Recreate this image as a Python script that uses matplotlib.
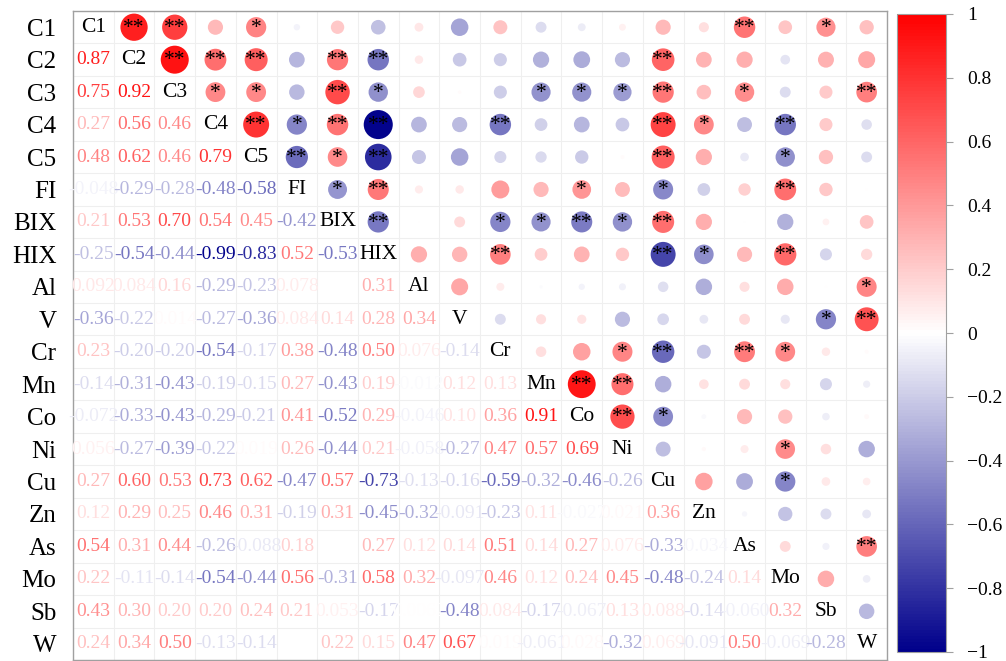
import math
import matplotlib
matplotlib.use("Agg")
import matplotlib.pyplot as plt
from matplotlib.colors import LinearSegmentedColormap, Normalize
from matplotlib.cm import ScalarMappable

plt.rcParams["font.family"] = ["Liberation Serif", "DejaVu Serif"]

names = ["C1", "C2", "C3", "C4", "C5", "FI", "BIX", "HIX", "Al", "V",
         "Cr", "Mn", "Co", "Ni", "Cu", "Zn", "As", "Mo", "Sb", "W"]

# Lower-triangle correlation coefficients, one list per variable (row),
# holding r with each of the preceding variables.
r_C2 = [0.87]
r_C3 = [0.75, 0.92]
r_C4 = [0.27, 0.56, 0.46]
r_C5 = [0.48, 0.62, 0.46, 0.79]
r_FI = [-0.048, -0.29, -0.28, -0.48, -0.58]
r_BIX = [0.21, 0.53, 0.70, 0.54, 0.45, -0.42]
r_HIX = [-0.25, -0.54, -0.44, -0.99, -0.83, 0.52, -0.53]
r_Al = [0.092, 0.084, 0.16, -0.29, -0.23, 0.078, 0.0031, 0.31]
r_V = [-0.36, -0.22, 0.014, -0.27, -0.36, 0.084, 0.14, 0.28, 0.34]
r_Cr = [0.23, -0.20, -0.20, -0.54, -0.17, 0.38, -0.48, 0.50, 0.076, -0.14]
r_Mn = [-0.14, -0.31, -0.43, -0.19, -0.15, 0.27, -0.43, 0.19, -0.012, 0.12, 0.13]
r_Co = [-0.072, -0.33, -0.43, -0.29, -0.21, 0.41, -0.52, 0.29, -0.046, 0.10,
        0.36, 0.91]
r_Ni = [0.056, -0.27, -0.39, -0.22, 0.019, 0.26, -0.44, 0.21, -0.058, -0.27,
        0.47, 0.57, 0.69]
r_Cu = [0.27, 0.60, 0.53, 0.73, 0.62, -0.47, 0.57, -0.73, -0.13, -0.16,
        -0.59, -0.32, -0.46, -0.26]
r_Zn = [0.12, 0.29, 0.25, 0.46, 0.31, -0.19, 0.31, -0.45, -0.32, -0.091,
        -0.23, 0.11, -0.027, 0.021, 0.36]
r_As = [0.54, 0.31, 0.44, -0.26, -0.088, 0.18, -0.0024, 0.27, 0.12, 0.14,
        0.51, 0.14, 0.27, 0.076, -0.33, -0.034]
r_Mo = [0.22, -0.11, -0.14, -0.54, -0.44, 0.56, -0.31, 0.58, 0.32, -0.097,
        0.46, 0.12, 0.24, 0.45, -0.48, -0.24, 0.14]
r_Sb = [0.43, 0.30, 0.20, 0.20, 0.24, 0.21, 0.053, -0.17, 0.0062, -0.48,
        0.084, -0.17, -0.067, 0.13, 0.088, -0.14, -0.060, 0.32]
r_W = [0.24, 0.34, 0.50, -0.13, -0.14, 0.0043, 0.22, 0.15, 0.47, 0.67,
       0.019, -0.061, 0.028, -0.32, 0.069, -0.091, 0.50, -0.069, -0.28]

lower_rows = [[], r_C2, r_C3, r_C4, r_C5, r_FI, r_BIX, r_HIX, r_Al, r_V,
              r_Cr, r_Mn, r_Co, r_Ni, r_Cu, r_Zn, r_As, r_Mo, r_Sb, r_W]

# Significance markers: p < 0.01 (**) and p < 0.05 (*)
sig_p01 = [("C1", "C2"), ("C1", "C3"), ("C1", "As"), ("C2", "C3"), ("C2", "C4"),
           ("C2", "C5"), ("C2", "BIX"), ("C2", "HIX"), ("C2", "Cu"), ("C3", "BIX"),
           ("C3", "Cu"), ("C3", "W"), ("C4", "C5"), ("C4", "BIX"), ("C4", "HIX"),
           ("C4", "Cr"), ("C4", "Cu"), ("C4", "Mo"), ("C5", "FI"), ("C5", "HIX"),
           ("C5", "Cu"), ("FI", "HIX"), ("FI", "Mo"), ("BIX", "HIX"), ("BIX", "Co"),
           ("BIX", "Cu"), ("HIX", "Cr"), ("HIX", "Cu"), ("HIX", "Mo"), ("V", "W"),
           ("Cr", "Cu"), ("Cr", "As"), ("Mn", "Co"), ("Mn", "Ni"), ("Co", "Ni"),
           ("As", "W")]
sig_p05 = [("C1", "C5"), ("C1", "Sb"), ("C3", "C4"), ("C3", "C5"), ("C3", "HIX"),
           ("C3", "Mn"), ("C3", "Co"), ("C3", "Ni"), ("C3", "As"), ("C4", "FI"),
           ("C4", "Zn"), ("C5", "BIX"), ("C5", "Mo"), ("FI", "BIX"), ("FI", "Co"),
           ("FI", "Cu"), ("BIX", "Cr"), ("BIX", "Mn"), ("BIX", "Ni"), ("HIX", "Zn"),
           ("Al", "W"), ("V", "Sb"), ("Cr", "Ni"), ("Cr", "Mo"), ("Co", "Cu"),
           ("Ni", "Mo"), ("Cu", "Mo")]

n = len(names)
idx = {nm: k for k, nm in enumerate(names)}

# full symmetric matrix
R = [[1.0] * n for _ in range(n)]
for i, row in enumerate(lower_rows):
    for j, v in enumerate(row):
        R[i][j] = v
        R[j][i] = v

stars = {}
for a, b in sig_p01:
    stars[(min(idx[a], idx[b]), max(idx[a], idx[b]))] = "**"
for a, b in sig_p05:
    stars[(min(idx[a], idx[b]), max(idx[a], idx[b]))] = "*"

cmap = LinearSegmentedColormap.from_list("bwr_dark", ["#00008B", "#FFFFFF", "#FF0000"], N=200)
norm = Normalize(-1, 1)


def fmt(v):
    a = abs(v)
    if a >= 0.1:
        d = 2
    else:
        d = -int(math.floor(math.log10(a))) + 1
    return f"{v:.{d}f}"


W_PX, H_PX = 1006, 661
fig = plt.figure(figsize=(W_PX / 100, H_PX / 100), dpi=100)
ax_l, ax_r, ax_t, ax_b = 73, 887, 11, 660
ax = fig.add_axes([ax_l / W_PX, 1 - ax_b / H_PX, (ax_r - ax_l) / W_PX, (ax_b - ax_t) / H_PX])
ax.set_xlim(-0.5, n - 0.5)
ax.set_ylim(n - 0.5, -0.5)

cell_h = (ax_b - ax_t) / n
cell_w = (ax_r - ax_l) / n
cell = min(cell_h, cell_w)

# cell grid
for k in range(n + 1):
    ax.axhline(k - 0.5, color="#EFEFEF", lw=0.8, zorder=0)
    ax.axvline(k - 0.5, color="#EFEFEF", lw=0.8, zorder=0)

# upper triangle: circles sized by |r|
xs, ys, ss, cs = [], [], [], []
for i in range(n):
    for j in range(i + 1, n):
        v = R[i][j]
        diam_px = 0.9 * math.sqrt(abs(v)) * cell
        xs.append(j)
        ys.append(i)
        ss.append((diam_px * 0.72) ** 2)
        cs.append(v)
ax.scatter(xs, ys, s=ss, c=cs, cmap=cmap, norm=norm, linewidths=0, zorder=2)

for (i, j), st in stars.items():
    ax.text(j, i + 0.04, st, ha="center", va="center", fontsize=15.5,
            color="black", zorder=3)

# diagonal names
for k, nm in enumerate(names):
    ax.text(k, k, nm, ha="center", va="center", fontsize=15.5, color="black", zorder=3)

# lower triangle: coefficients coloured by value (near-zero ones render as
# white on white, so they are left out)
for i in range(n):
    for j in range(i):
        v = R[i][j]
        if abs(v) < 0.005:
            continue
        ax.text(j, i, fmt(v), ha="center", va="center", fontsize=14,
                color=cmap(norm(v)), zorder=3)

ax.set_xticks([])
ax.set_yticks(range(n))
ax.set_yticklabels(names, fontsize=18)
ax.tick_params(axis="y", length=0, pad=12)
for sp in ax.spines.values():
    sp.set_color("#A0A0A0")
    sp.set_linewidth(1.0)

# colour bar
cb_l, cb_r, cb_t, cb_b = 897, 946, 14, 652
cax = fig.add_axes([cb_l / W_PX, 1 - cb_b / H_PX, (cb_r - cb_l) / W_PX, (cb_b - cb_t) / H_PX])
cb = fig.colorbar(ScalarMappable(norm=norm, cmap=cmap), cax=cax)
tick_vals = [-1, -0.8, -0.6, -0.4, -0.2, 0, 0.2, 0.4, 0.6, 0.8, 1]
tick_labels = ["\u22121", "\u22120.8", "\u22120.6", "\u22120.4", "\u22120.2", "0",
               "0.2", "0.4", "0.6", "0.8", "1"]
cb.set_ticks(tick_vals)
cb.set_ticklabels(tick_labels)
cb.ax.tick_params(length=5, width=0.8, color="#A0A0A0", labelsize=14, pad=10)
cb.outline.set_edgecolor("#A0A0A0")
cb.outline.set_linewidth(0.8)

fig.savefig("out.png", dpi=100)
